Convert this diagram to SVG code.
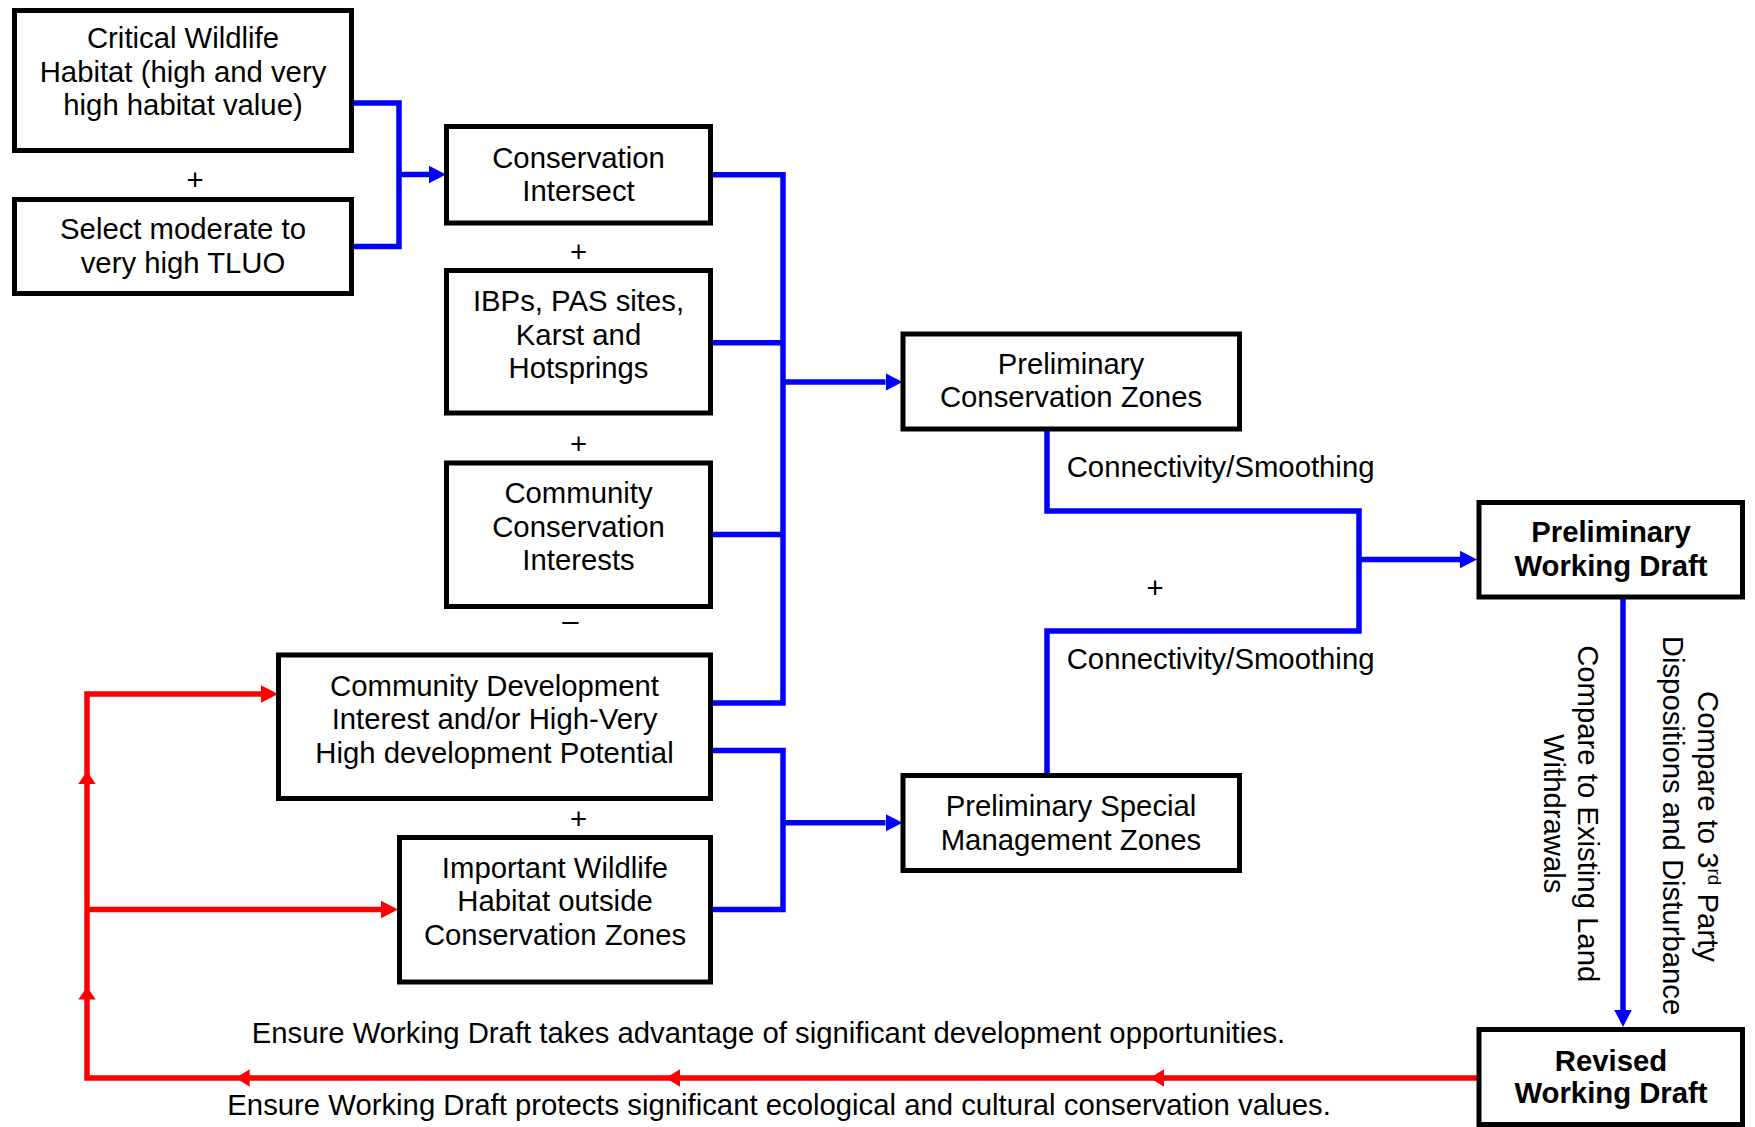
<svg xmlns="http://www.w3.org/2000/svg" width="1755" height="1127" viewBox="0 0 1755 1127">
<style>
text{font-family:"Liberation Sans",Arial,sans-serif;font-size:29.3px;fill:#000}
.c{text-anchor:middle}
.b{font-weight:bold}
.box{fill:#fff;stroke:#000;stroke-width:5}
.bl{fill:none;stroke:#0000ff;stroke-width:5.5;stroke-linejoin:miter}
.rd{fill:none;stroke:#ff0000;stroke-width:5.5;stroke-linejoin:miter}
</style>
<defs>
<marker id="ab" markerUnits="userSpaceOnUse" markerWidth="18" markerHeight="18" refX="0" refY="8.75" orient="auto"><path d="M0,0 L17,8.75 L0,17.5 z" fill="#0000ff"/></marker>
<marker id="ar" markerUnits="userSpaceOnUse" markerWidth="18" markerHeight="18" refX="0" refY="8.75" orient="auto"><path d="M0,0 L17,8.75 L0,17.5 z" fill="#ff0000"/></marker>
</defs>
<rect width="1755" height="1127" fill="#fff"/>

<g id="connectors">
<path class="bl" d="M354,103 H399 V246.5 H354"/>
<path class="bl" d="M399,174.5 H429" marker-end="url(#ab)"/>
<path class="bl" d="M713,174.8 H783 V703 H713"/>
<path class="bl" d="M713,342.8 H783 M713,534.5 H783"/>
<path class="bl" d="M783,382 H885.5" marker-end="url(#ab)"/>
<path class="bl" d="M713,750.5 H783 V909.5 H713"/>
<path class="bl" d="M783,822.7 H885.5" marker-end="url(#ab)"/>
<path class="bl" d="M1047,431 V511 H1359 V631 H1047 V773"/>
<path class="bl" d="M1359,559.5 H1460" marker-end="url(#ab)"/>
<path class="bl" d="M1623,599 V1010" marker-end="url(#ab)"/>
<path class="rd" d="M1477,1078 H87 V694 H261" marker-end="url(#ar)"/>
<path class="rd" d="M87,909.5 H381" marker-end="url(#ar)"/>
<polygon fill="#ff0000" points="1150,1078 1164,1069.2 1164,1086.8"/>
<polygon fill="#ff0000" points="666,1078 680,1069.2 680,1086.8"/>
<polygon fill="#ff0000" points="235.7,1078 249.7,1069.2 249.7,1086.8"/>
<polygon fill="#ff0000" points="87,771 78.3,784 95.7,784"/>
<polygon fill="#ff0000" points="87,986.7 78.3,999.5 95.7,999.5"/>
</g>

<g id="critical-wildlife">
<rect class="box" x="14.5" y="10.5" width="337" height="140"/>
<text class="c" x="183" y="47.5">Critical Wildlife</text>
<text class="c" x="183" y="81.5">Habitat (high and very</text>
<text class="c" x="183" y="114.5">high habitat value)</text>
</g>
<text id="plus1" class="c" x="195" y="190">+</text>
<g id="select-tluo">
<rect class="box" x="14.5" y="199.5" width="337" height="94"/>
<text class="c" x="183" y="239">Select moderate to</text>
<text class="c" x="183" y="272.5">very high TLUO</text>
</g>
<g id="conservation-intersect">
<rect class="box" x="446.5" y="126.5" width="264" height="96.5"/>
<text class="c" x="578.5" y="167.5">Conservation</text>
<text class="c" x="578.5" y="201">Intersect</text>
</g>
<text id="plus2" class="c" x="578.5" y="262">+</text>
<g id="ibps">
<rect class="box" x="446.5" y="270.5" width="264" height="142.5"/>
<text class="c" x="578.5" y="310.5">IBPs, PAS sites,</text>
<text class="c" x="578.5" y="344.5">Karst and</text>
<text class="c" x="578.5" y="377.5">Hotsprings</text>
</g>
<text id="plus3" class="c" x="578.5" y="454">+</text>
<g id="community-conservation">
<rect class="box" x="446.5" y="463" width="264" height="143.5"/>
<text class="c" x="578.5" y="502.5">Community</text>
<text class="c" x="578.5" y="536.5">Conservation</text>
<text class="c" x="578.5" y="570">Interests</text>
</g>
<text id="minus" class="c" x="570.5" y="631">–</text>
<g id="community-development">
<rect class="box" x="278.5" y="655" width="432" height="143.5"/>
<text class="c" x="494.5" y="695.5">Community Development</text>
<text class="c" x="494.5" y="729">Interest and/or High-Very</text>
<text class="c" x="494.5" y="762.5">High development Potential</text>
</g>
<text id="plus4" class="c" x="578.5" y="829">+</text>
<g id="important-wildlife">
<rect class="box" x="399.5" y="837.5" width="311" height="144.5"/>
<text class="c" x="555" y="877.5">Important Wildlife</text>
<text class="c" x="555" y="911">Habitat outside</text>
<text class="c" x="555" y="944.5">Conservation Zones</text>
</g>
<g id="prelim-conservation-zones">
<rect class="box" x="903" y="334" width="336.5" height="95"/>
<text class="c" x="1071" y="374">Preliminary</text>
<text class="c" x="1071" y="407">Conservation Zones</text>
</g>
<g id="prelim-special-management">
<rect class="box" x="903" y="775.5" width="336.5" height="95"/>
<text class="c" x="1071" y="816">Preliminary Special</text>
<text class="c" x="1071" y="849.5">Management Zones</text>
</g>
<text x="1066.7" y="476.5">Connectivity/Smoothing</text>
<text x="1066.7" y="669">Connectivity/Smoothing</text>
<text id="plus5" class="c" x="1155" y="598">+</text>
<g id="prelim-working-draft">
<rect class="box" x="1479" y="502.5" width="263.5" height="94.5"/>
<text class="c b" x="1611" y="541.5">Preliminary</text>
<text class="c b" x="1611" y="575.5">Working Draft</text>
</g>
<g id="revised-working-draft">
<rect class="box" x="1479" y="1029.5" width="263.5" height="95"/>
<text class="c b" x="1611" y="1070.5">Revised</text>
<text class="c b" x="1611" y="1102.5">Working Draft</text>
</g>
<text class="c" transform="translate(1578,813.7) rotate(90)">Compare to Existing Land</text>
<text class="c" transform="translate(1543.5,813.7) rotate(90)">Withdrawals</text>
<text class="c" transform="translate(1698,826.5) rotate(90)">Compare to 3<tspan font-size="19" dy="-10">rd</tspan><tspan dy="10"> Party</tspan></text>
<text class="c" transform="translate(1663,825.5) rotate(90)">Dispositions and Disturbance</text>
<text x="251.7" y="1043">Ensure Working Draft takes advantage of significant development opportunities.</text>
<text x="227.3" y="1115">Ensure Working Draft protects significant ecological and cultural conservation values.</text>
</svg>
